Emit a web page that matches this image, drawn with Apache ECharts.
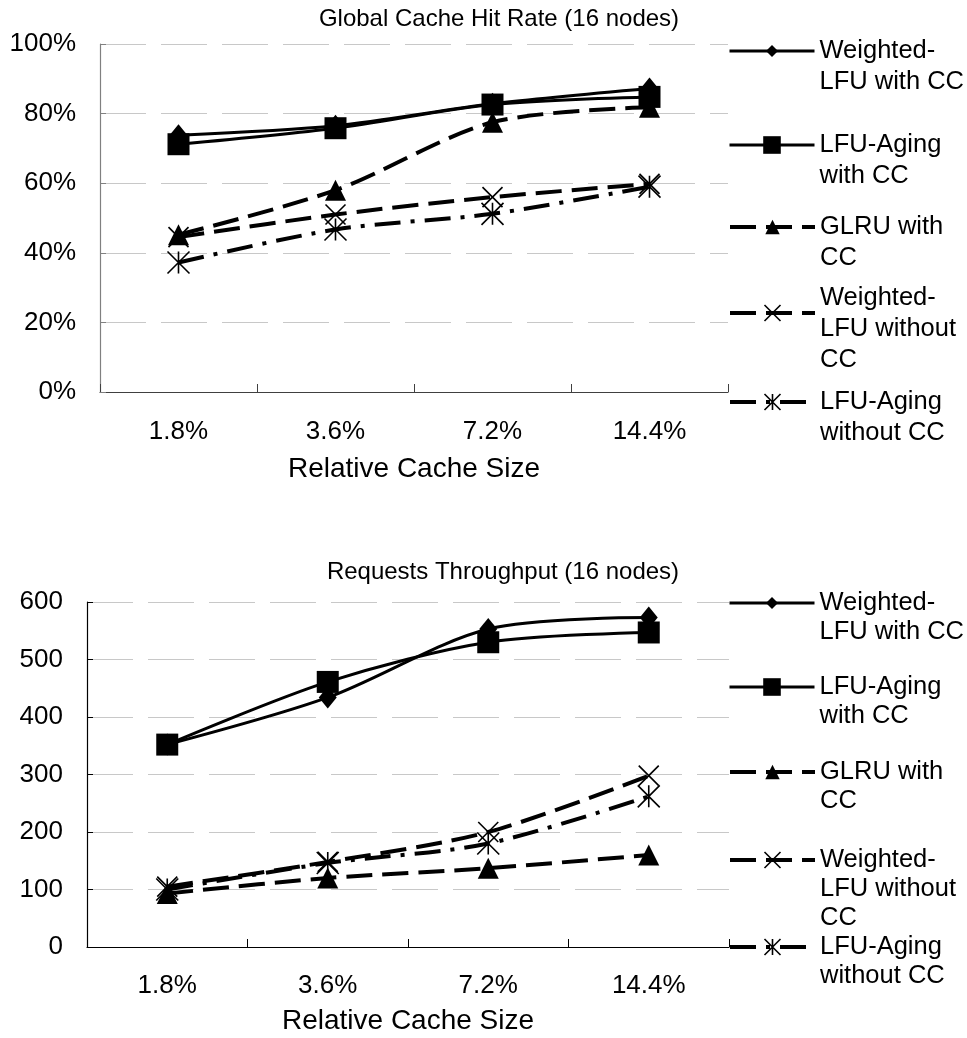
<!DOCTYPE html>
<html>
<head>
<meta charset="utf-8">
<title>Global Cache Hit Rate / Requests Throughput</title>
<script src="https://cdn.jsdelivr.net/npm/echarts@6/dist/echarts.min.js"></script>
<style>
html,body{margin:0;padding:0;background:#fff;}
#chart{width:967px;height:1038px;}
</style>
</head>
<body>
<div id="chart"></div>
<script>
var categories = ['1.8%', '3.6%', '7.2%', '14.4%'];
var seriesNames = ['Weighted-LFU with CC', 'LFU-Aging with CC', 'GLRU with CC', 'Weighted-LFU without CC', 'LFU-Aging without CC'];
// legend text, wrapped the way the original chart wraps it
var legendLines = [
    ['Weighted-', 'LFU with CC'],
    ['LFU-Aging', 'with CC'],
    ['GLRU with', 'CC'],
    ['Weighted-', 'LFU without', 'CC'],
    ['LFU-Aging', 'without CC']
];

// global cache hit rate (%)
var hitWlfuCC    = [73.8, 76.5, 82.8, 87.2];
var hitAgingCC   = [71.2, 75.8, 82.6, 84.8];
var hitGlruCC    = [45.2, 58, 77.5, 81.8];
var hitWlfuNoCC  = [44.5, 51, 56, 59.8];
var hitAgingNoCC = [37.2, 46.7, 51.2, 59];
var hitTicks = [0, 100, 20];   // min, max, step

// requests throughput
var thrWlfuCC    = [352, 434, 553, 573];
var thrAgingCC   = [352, 461, 530, 547];
var thrGlruCC    = [93, 120, 137, 160];
var thrWlfuNoCC  = [105, 148, 200, 298];
var thrAgingNoCC = [100, 146, 180, 262];
var thrTicks = [0, 600, 100];

var FONT = '"Liberation Sans", Arial, sans-serif';

var chartObj = {
    myChart : echarts.init(document.getElementById('chart')),
    option : null,
    // marker + line look of each series, same order as seriesNames
    looks : [
        {symbol : 'diamond', size : [18, 22], dash : 'solid', width : 3, icon : 15},
        {symbol : 'rect', size : 22, dash : 'solid', width : 3, icon : 22},
        {symbol : 'triangle', size : 21, dash : [26, 10], width : 4, icon : 18},
        {symbol : 'path://M0,0L10,10M10,0L0,10', size : 20, dash : [26, 10], width : 4, icon : 20, stroke : true},
        {symbol : 'path://M0,0L10,10M10,0L0,10M5,0L5,10', size : 22, dash : [26, 10, 4, 10], width : 4, icon : 20, stroke : true}
    ],
    // where each legend entry sits: icon centre y, which text line sits at the icon, line height
    legendPlaces : [
        {centers : [51, 145, 227, 313, 402], anchors : [0, 0, 0, 0.5, 0], lineHeight : 31},
        {centers : [603, 687, 772, 860, 947], anchors : [0, 0, 0, 0, 0], lineHeight : 29}
    ],
    init : function(){
        var that = this;
        that.render();
    },
    makeSeries : function(lists, axisIndex){
        var that = this;
        return lists.map(function(list, i){
            var look = that.looks[i];
            return {
                name : seriesNames[i],
                type : 'line',
                xAxisIndex : axisIndex,
                yAxisIndex : axisIndex,
                data : list,
                smooth : 0.3,
                symbol : look.symbol,
                symbolSize : look.size,
                showAllSymbol : true,
                lineStyle : {color : '#000', width : look.width, type : look.dash},
                itemStyle : look.stroke ? {color : '#000', borderColor : '#000', borderWidth : 1.6} : {color : '#000'},
                emphasis : {disabled : true}
            };
        });
    },
    // one legend component per entry so every entry can be placed like the original
    makeLegends : function(place){
        var that = this;
        var L = place.lineHeight;
        return seriesNames.map(function(name, i){
            var lines = legendLines[i];
            var pad = Math.round(lines.length - 1 - 2 * place.anchors[i]);
            var text = '';
            for(var k = 0; k < pad; k++){ text += ' \n'; }
            text += lines.join('\n');
            return {
                orient : 'vertical',
                left : 728,
                top : place.centers[i] - (pad + lines.length) * L / 2,
                padding : 0,
                itemWidth : 85,
                itemHeight : that.looks[i].icon,
                selectedMode : false,
                data : [name],
                formatter : function(){ return text; },
                lineStyle : {width : 'inherit'},
                itemStyle : {borderWidth : 'inherit'},
                textStyle : {fontFamily : FONT, fontSize : 25.5, lineHeight : L, color : '#000'}
            };
        });
    },
    makeX : function(gridIndex, lineColor, margin, nameGap){
        return {
            type : 'category',
            gridIndex : gridIndex,
            data : categories,
            boundaryGap : true,
            name : 'Relative Cache Size',
            nameLocation : 'middle',
            nameGap : nameGap,
            nameTextStyle : {fontFamily : FONT, fontSize : 28, color : '#000'},
            axisLine : {show : true, lineStyle : {color : lineColor, width : 1.2}},
            axisTick : {show : true, inside : true, length : 8, lineStyle : {color : lineColor}},
            axisLabel : {fontFamily : FONT, fontSize : 26, color : '#000', margin : margin},
            splitLine : {show : false}
        };
    },
    makeY : function(gridIndex, ticks, fmt, lineColor){
        return {
            type : 'value',
            gridIndex : gridIndex,
            min : ticks[0],
            max : ticks[1],
            interval : ticks[2],
            axisLine : {show : true, lineStyle : {color : lineColor, width : 1.2}},
            axisTick : {show : true, inside : true, length : 6, lineStyle : {color : lineColor}},
            axisLabel : {fontFamily : FONT, fontSize : 26, color : '#000', margin : 24, formatter : fmt},
            splitLine : {show : true, lineStyle : {color : '#c8c8c8', width : 1, type : [46, 15]}}
        };
    },
    render : function(){
        var that = this;
        that.option = {
            animation : false,
            backgroundColor : '#fff',
            color : ['#000'],
            title : [
                {text : 'Global Cache Hit Rate (16 nodes)', left : 494, top : 2, textAlign : 'center',
                    textStyle : {fontFamily : FONT, fontSize : 24, fontWeight : 'normal', color : '#000'}},
                {text : 'Requests Throughput (16 nodes)', left : 498, top : 555, textAlign : 'center',
                    textStyle : {fontFamily : FONT, fontSize : 24, fontWeight : 'normal', color : '#000'}}
            ],
            legend : that.makeLegends(that.legendPlaces[0]).concat(that.makeLegends(that.legendPlaces[1])),
            grid : [
                {left : 100, right : 239, top : 44, height : 348},
                {left : 87, right : 238, top : 602, height : 345}
            ],
            xAxis : [that.makeX(0, '#404040', 27, 63), that.makeX(1, '#000', 26, 60)],
            yAxis : [that.makeY(0, hitTicks, '{value}%', '#808080'), that.makeY(1, thrTicks, '{value}', '#000')],
            series : that.makeSeries([hitWlfuCC, hitAgingCC, hitGlruCC, hitWlfuNoCC, hitAgingNoCC], 0)
                .concat(that.makeSeries([thrWlfuCC, thrAgingCC, thrGlruCC, thrWlfuNoCC, thrAgingNoCC], 1))
        };
        that.myChart.setOption(that.option);
    }
};
chartObj.init();

window.onresize = function(){
    chartObj.myChart.resize();
};
</script>
</body>
</html>
